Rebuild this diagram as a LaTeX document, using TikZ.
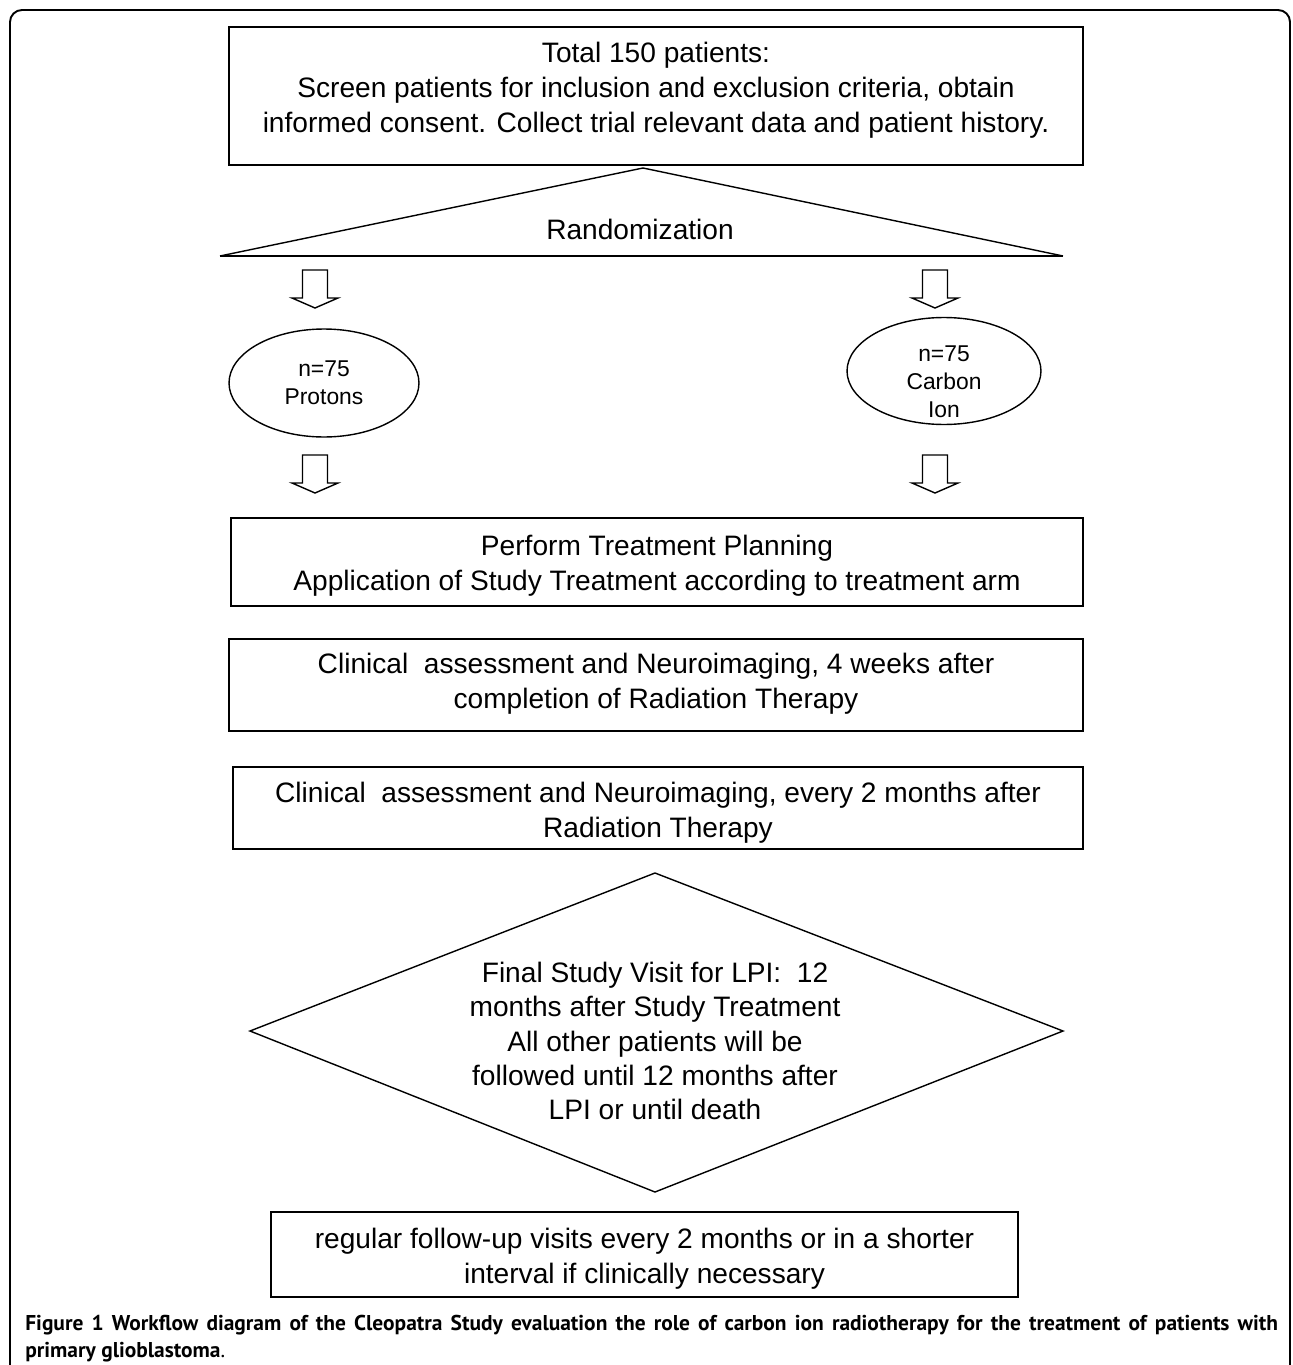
\documentclass[tikz,border=0pt]{standalone}
\usepackage{fontspec}
\setmainfont{Liberation Sans}
\newfontfamily\capfont{PT Sans}
\usetikzlibrary{shapes.geometric}

\begin{document}
\begin{tikzpicture}[x=0.02cm, y=-0.02cm,
  box/.style={draw, line width=1pt, inner sep=0pt},
  oval/.style={draw, ellipse, line width=0.8pt, inner sep=0pt, align=center,
    font=\fontsize{13}{16}\selectfont},
  body/.style={align=center, inner sep=0pt, font=\fontsize{16}{20}\selectfont},
  downarr/.pic={\draw[line width=0.8pt] (-12.5,0) -- (-12.5,28) -- (-23,28)
    -- (0,38) -- (23,28) -- (12.5,28) -- (12.5,0) -- cycle;}]
  \useasboundingbox (0,0) rectangle (1292,1365);
  % Frame
  \draw[line width=1.1pt, rounded corners=0.24cm] (10,1370) -- (10,10) -- (1290,10) -- (1290,1370);
  % Screening
  \node[box, minimum width=17.08cm, minimum height=2.76cm] (screen) at (656,96) {};
  \node[body] (screentxt) at (656,90.5)
    {Total 150 patients:\\Screen patients for inclusion and exclusion criteria, obtain\\
     informed consent. Collect trial relevant data and patient history.};
  % Randomization
  \coordinate (apex) at (643,168);
  \coordinate (baseL) at (220,256);
  \coordinate (baseR) at (1063,256);
  \draw[line width=0.8pt] (baseL) -- (apex) -- (baseR);
  \draw[line width=1.2pt] (baseL) -- (baseR);
  \node[body] (rand) at (640,229) {Randomization};
  % Arms
  \pic at (315,270) {downarr};
  \pic at (935,270) {downarr};
  \node[oval, minimum width=3.8cm, minimum height=2.16cm] (protons) at (324,383)
    {n=75\\Protons};
  \node[oval, minimum width=3.88cm, minimum height=2.14cm] (carbon) at (944,371) {};
  \node[body, font=\fontsize{13}{16}\selectfont] (carbontxt) at (944,382) {n=75\\Carbon\\Ion};
  \pic at (315,455) {downarr};
  \pic at (935,455) {downarr};
  % Treatment and follow-up
  \node[box, minimum width=17.04cm, minimum height=1.76cm] (plan) at (657,562) {};
  \node[body] (plantxt) at (657,566)
    {Perform Treatment Planning\\Application of Study Treatment according to treatment arm};
  \node[box, minimum width=17.08cm, minimum height=1.84cm] (fourwk) at (656,685) {};
  \node[body] (fourwktxt) at (656,684)
    {Clinical\ \ assessment and Neuroimaging, 4 weeks after\\completion of Radiation Therapy};
  \node[box, minimum width=17.0cm, minimum height=1.64cm] (twomo) at (658,808) {};
  \node[body] (twomotxt) at (658,813)
    {Clinical\ \ assessment and Neuroimaging, every 2 months after\\Radiation Therapy};
  % Final visit
  \coordinate (dtop) at (655,873);
  \coordinate (dright) at (1063,1031);
  \coordinate (dbot) at (655,1192);
  \coordinate (dleft) at (250,1031);
  \draw[line width=0.8pt] (dtop) -- (dright) -- (dbot) -- (dleft) -- cycle;
  \node[body, font=\fontsize{16}{19.5}\selectfont] (final) at (655,1041)
    {Final Study Visit for LPI:\ \ 12\\months after Study Treatment\\All other patients will be\\
     followed until 12 months after\\LPI or until death};
  \node[box, minimum width=14.94cm, minimum height=1.70cm] (regular) at (644.5,1254.5) {};
  \node[body] (regulartxt) at (644.5,1259)
    {regular follow-up visits every 2 months or in a shorter\\interval if clinically necessary};
  % Caption
  \node[anchor=north west, inner sep=0pt, text width=25.06cm, align=justify,
    font=\capfont\fontsize{12.2}{15.4}\selectfont] (caption) at (25,1315)
    {\textbf{Figure 1 Workflow diagram of the Cleopatra Study evaluation the role of carbon ion
     radiotherapy for the treatment of patients with\linebreak primary glioblastoma}.};
\end{tikzpicture}
\end{document}
